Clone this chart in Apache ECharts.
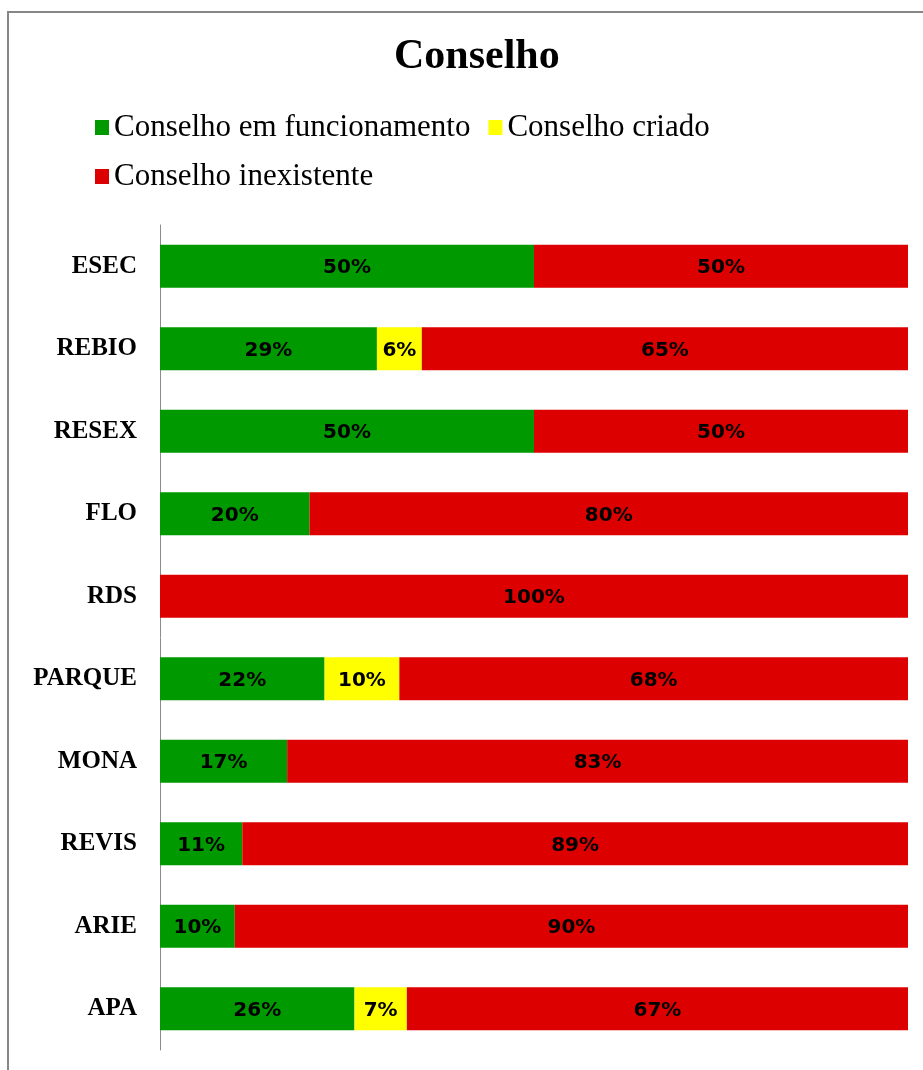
<!DOCTYPE html>
<html>
<head>
<meta charset="utf-8">
<script src="https://cdn.jsdelivr.net/npm/echarts@6/dist/echarts.min.js"></script>
<style>
  html, body { margin: 0; padding: 0; background: #fff; }
  #chart { width: 923px; height: 1070px; }
</style>
</head>
<body>
<div id="chart"></div>
<script>
const categories = ['ESEC', 'REBIO', 'RESEX', 'FLO', 'RDS', 'PARQUE', 'MONA', 'REVIS', 'ARIE', 'APA']
const funcionamento = [50, 29, 50, 20, 0, 22, 17, 11, 10, 26]
const criado = [0, 6, 0, 0, 0, 10, 0, 0, 0, 7]
const inexistente = [50, 65, 50, 80, 100, 68, 83, 89, 90, 67]

const serif = '"Liberation Serif", "Times New Roman", serif'
const labelFont = '"DejaVu Sans", Verdana, sans-serif'

function pctLabel(p) {
  return p.value ? p.value + '%' : ''
}

function barSeries(name, data, color) {
  return {
    name,
    type: 'bar',
    stack: 'total',
    data,
    barWidth: '52%',
    itemStyle: { color },
    label: {
      show: true,
      position: 'inside',
      offset: [0, 2],
      color: '#000',
      fontFamily: labelFont,
      fontWeight: 'bold',
      fontSize: 20,
      formatter: pctLabel,
    },
  }
}

const chart = echarts.init(document.getElementById('chart'), null, { renderer: 'canvas' })
chart.setOption({
  backgroundColor: '#fff',
  animation: false,
  graphic: [
    {
      type: 'rect',
      shape: { x: 8, y: 12, width: 1000, height: 1100 },
      style: { fill: 'none', stroke: '#878787', lineWidth: 2 },
    },
  ],
  title: {
    text: 'Conselho',
    left: 389,
    top: 31,
    textStyle: { fontFamily: serif, fontWeight: 'bold', fontSize: 42, color: '#000' },
  },
  legend: [
    {
      data: ['Conselho em funcionamento', 'Conselho criado'],
      left: 90,
      top: 107,
      icon: 'rect',
      itemWidth: 14,
      itemHeight: 15,
      itemGap: 18,
      textStyle: { fontFamily: serif, fontSize: 31, color: '#000' },
    },
    {
      data: ['Conselho inexistente'],
      left: 90,
      top: 156,
      icon: 'rect',
      itemWidth: 14,
      itemHeight: 15,
      textStyle: { fontFamily: serif, fontSize: 31, color: '#000' },
    },
  ],
  grid: { left: 160, right: 15, top: 225, bottom: 20, containLabel: false },
  xAxis: {
    type: 'value',
    min: 0,
    max: 100,
    show: false,
  },
  yAxis: {
    type: 'category',
    data: categories,
    inverse: true,
    axisLine: { show: true, lineStyle: { color: '#8c8c8c', width: 1 } },
    axisTick: { show: false },
    axisLabel: {
      margin: 23,
      color: '#000',
      fontFamily: serif,
      fontWeight: 'bold',
      fontSize: 25,
      padding: [3, 0, 0, 0],
    },
  },
  series: [
    barSeries('Conselho em funcionamento', funcionamento, '#009900'),
    barSeries('Conselho criado', criado, '#ffff00'),
    barSeries('Conselho inexistente', inexistente, '#dd0000'),
  ],
})
</script>
</body>
</html>
